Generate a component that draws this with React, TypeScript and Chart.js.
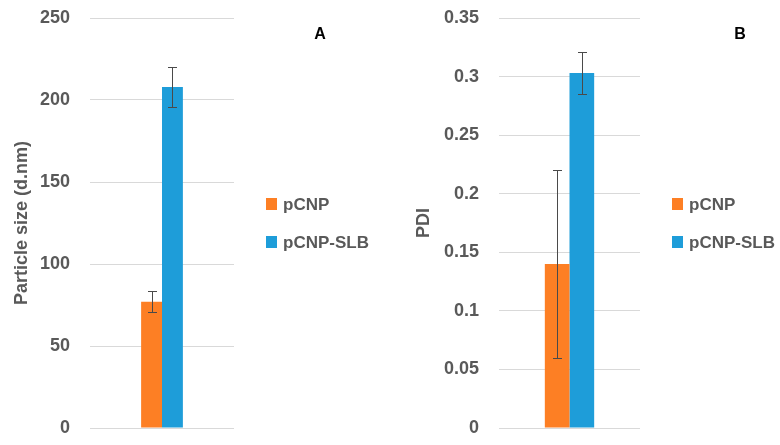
import React, { useEffect, useRef } from "react";
import { Chart, registerables } from "chart.js";

Chart.register(...registerables);

const categories = [""];
const seriesNames = ["pCNP", "pCNP-SLB"];
const seriesColors = ["#FD7F24", "#1E9DD9"];

// Panel A: particle size
const sizeValues = [77, 208];
const sizeErrors = [6.5, 12];
const sizeTicks = { min: 0, max: 250, step: 50 };

// Panel B: PDI
const pdiValues = [0.14, 0.303];
const pdiErrors = [0.08, 0.018];
const pdiTicks = { min: 0, max: 0.35, step: 0.05 };

const FONT = "'Liberation Sans', Arial, sans-serif";
const GRAY = "#595959";

function makePlugins(label: string, labelOffset: number, errors: number[]) {
  return [
    {
      id: "errorbars",
      afterDatasetsDraw(chart: any) {
        const ctx = chart.ctx;
        const y = chart.scales.y;
        ctx.save();
        ctx.strokeStyle = "#4A4A4A";
        ctx.lineWidth = 1;
        chart.data.datasets.forEach((ds: any, i: number) => {
          const meta = chart.getDatasetMeta(i);
          meta.data.forEach((bar: any, j: number) => {
            const v = ds.data[j];
            const e = errors[i];
            const x = Math.round(bar.x) + 0.5;
            const yt = Math.round(y.getPixelForValue(v + e)) + 0.5;
            const yb = Math.round(y.getPixelForValue(v - e)) + 0.5;
            ctx.beginPath();
            ctx.moveTo(x, yt);
            ctx.lineTo(x, yb);
            ctx.moveTo(x - 4.5, yt);
            ctx.lineTo(x + 4.5, yt);
            ctx.moveTo(x - 4.5, yb);
            ctx.lineTo(x + 4.5, yb);
            ctx.stroke();
          });
        });
        ctx.restore();
      },
      afterDraw(chart: any) {
        const ctx = chart.ctx;
        const area = chart.chartArea;
        ctx.save();
        ctx.fillStyle = "#000000";
        ctx.font = `bold 16px ${FONT}`;
        ctx.textAlign = "center";
        ctx.textBaseline = "middle";
        ctx.fillText(label, area.right + labelOffset, 35);
        const cy = (area.top + area.bottom) / 2;
        const rows = [cy - 19, cy + 19];
        ctx.font = `bold 17px ${FONT}`;
        ctx.textAlign = "left";
        seriesNames.forEach((name, i) => {
          const lx = area.right + 32;
          ctx.fillStyle = seriesColors[i];
          ctx.fillRect(lx, rows[i] - 6, 11, 12);
          ctx.fillStyle = GRAY;
          ctx.fillText(name, lx + 17, rows[i] + 1);
        });
        ctx.restore();
      },
    },
  ];
}

function Panel(props: {
  values: number[];
  errors: number[];
  ticks: { min: number; max: number; step: number };
  title: string;
  titlePad: number;
  axisWidth: number;
  rightPad: number;
  catPct: number;
  label: string;
  labelOffset: number;
}) {
  const ref = useRef<HTMLCanvasElement | null>(null);
  useEffect(() => {
    if (!ref.current) return;
    const chart = new Chart(ref.current, {
      type: "bar",
      data: {
        labels: categories,
        datasets: seriesNames.map((name, i) => ({
          label: name,
          data: [props.values[i]],
          backgroundColor: seriesColors[i],
          borderWidth: 0,
        })),
      },
      options: {
        responsive: false,
        animation: false,
        devicePixelRatio: 1,
        layout: { padding: { left: 0, top: 18, right: props.rightPad, bottom: 17 } },
        datasets: { bar: { categoryPercentage: props.catPct, barPercentage: 1 } },
        plugins: { legend: { display: false }, tooltip: { enabled: false } },
        scales: {
          x: { display: false, grid: { display: false } },
          y: {
            min: props.ticks.min,
            max: props.ticks.max,
            afterFit(scale: any) {
              scale.width = props.axisWidth;
              scale.paddingTop = 0;
              scale.paddingBottom = 0;
            },
            ticks: {
              stepSize: props.ticks.step,
              padding: 20,
              color: GRAY,
              font: { family: FONT, size: 18, weight: "bold" },
              callback: (v: any) => String(+Number(v).toFixed(2)),
            },
            grid: { color: "#D9D9D9", drawTicks: false, lineWidth: 1 },
            border: { display: false },
            title: {
              display: true,
              text: props.title,
              color: GRAY,
              font: { family: FONT, size: 18, weight: "bold" },
              padding: { top: props.titlePad, bottom: 0 },
            },
          },
        },
      },
      plugins: makePlugins(props.label, props.labelOffset, props.errors) as any,
    });
    return () => chart.destroy();
  }, []);
  return <canvas ref={ref} width={390} height={445} style={{ display: "block" }} />;
}

export default function App() {
  useEffect(() => {
    document.body.style.margin = "0";
    document.body.style.background = "#ffffff";
  }, []);
  return (
    <div style={{ display: "flex", width: 780, height: 445, background: "#fff" }}>
      <Panel
        values={sizeValues}
        errors={sizeErrors}
        ticks={sizeTicks}
        title="Particle size (d.nm)"
        titlePad={11}
        axisWidth={90}
        rightPad={156}
        catPct={0.29}
        label="A"
        labelOffset={86}
      />
      <Panel
        values={pdiValues}
        errors={pdiErrors}
        ticks={pdiTicks}
        title="PDI"
        titlePad={23}
        axisWidth={109}
        rightPad={140}
        catPct={0.35}
        label="B"
        labelOffset={100}
      />
    </div>
  );
}
